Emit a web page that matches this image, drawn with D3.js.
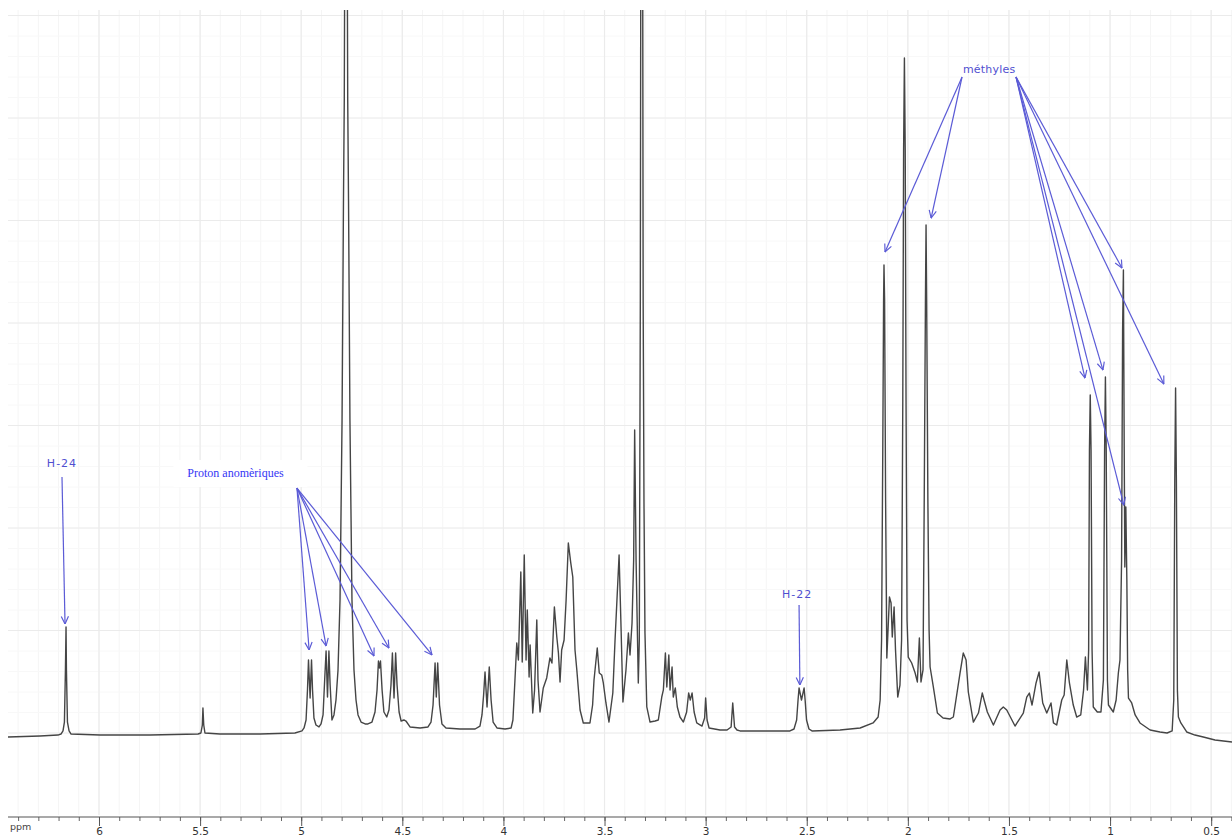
<!DOCTYPE html>
<html><head><meta charset="utf-8">
<script src="https://cdn.jsdelivr.net/npm/d3@7"></script>
<style>html,body{margin:0;padding:0;background:#fff;}svg{display:block;}</style>
</head><body>
<svg id="chart" width="1232" height="837"></svg>
<script>
// ---- data (chemical shift in ppm, relative intensity) ----
const spectrum = [
[6.450,-0.39],[6.292,-0.29],[6.203,-0.2],[6.188,-0.1],[6.178,0.2],[6.171,1.07],[6.166,6.15],[6.163,10.34],[6.161,6.15],[6.156,1.07],[6.148,0.2],[6.138,-0.1],
[5.995,-0.2],[5.748,-0.2],[5.510,-0.1],[5.496,0],[5.489,0.78],[5.486,2.44],[5.482,0.78],[5.476,0],[5.402,-0.1],[5.204,-0.1],[5.031,0],
[4.996,0.2],[4.986,0.49],[4.976,1.27],[4.969,4.2],[4.964,7.12],[4.956,3.41],[4.949,7.12],[4.944,4.2],[4.937,1.46],[4.927,0.78],[4.912,0.59],
[4.902,0.88],[4.892,1.76],[4.884,5.17],[4.877,8.0],[4.870,3.51],[4.863,8.0],[4.857,4.68],[4.848,1.27],
[4.838,1.76],[4.828,3.22],[4.818,6.15],[4.808,13.0],[4.798,30.5],[4.791,52.0],[4.787,61.8],[4.781,100],[4.776,100],[4.770,61.8],[4.766,52.0],[4.759,30.5],[4.749,13.0],[4.739,6.15],[4.729,3.22],[4.719,1.76],[4.704,1.07],[4.684,0.88],
[4.670,0.88],[4.650,1.07],[4.635,2.05],[4.625,4.2],[4.618,7.02],[4.613,6.34],[4.608,7.02],[4.600,4.2],[4.591,2.05],[4.577,1.56],
[4.566,2.24],[4.556,4.68],[4.549,7.8],[4.541,3.41],[4.533,7.8],[4.526,4.68],[4.516,2.05],[4.506,1.17],[4.492,1.27],[4.482,1.17],[4.462,0.59],[4.412,0.49],[4.373,0.59],
[4.358,1.07],[4.348,2.73],[4.338,6.83],[4.332,3.51],[4.325,6.83],[4.316,2.73],[4.304,0.88],[4.284,0.49],[4.215,0.39],[4.140,0.39],
[4.116,0.68],[4.106,1.76],[4.098,3.71],[4.091,5.95],[4.081,2.54],[4.070,6.44],[4.061,3.22],[4.051,1.07],[4.032,0.49],[3.992,0.39],[3.962,0.49],
[3.953,1.27],[3.943,5.17],[3.934,8.78],[3.926,7.12],[3.914,15.71],[3.907,6.93],[3.897,17.37],[3.888,7.12],[3.882,12.0],[3.873,5.46],[3.868,8.59],
[3.855,1.95],[3.846,4.2],[3.835,11.02],[3.829,5.17],[3.819,2.05],[3.803,4.39],[3.786,5.37],[3.770,7.32],[3.760,6.83],[3.748,12.29],[3.736,9.37],
[3.728,7.8],[3.720,4.98],[3.712,8.1],[3.700,9.07],[3.690,12.98],[3.679,18.54],[3.667,16.59],[3.657,15.22],[3.646,8.1],[3.637,6.15],[3.621,2.24],
[3.605,0.98],[3.572,0.98],[3.559,2.73],[3.552,5.17],[3.536,8.29],[3.526,5.85],[3.514,5.66],[3.506,4.88],[3.493,2.93],[3.478,1.07],
[3.459,3.9],[3.448,9.07],[3.428,17.37],[3.418,10.05],[3.409,3.02],[3.394,6.15],[3.382,9.76],[3.374,7.61],[3.364,10.73],[3.356,16.88],[3.351,29.56],[3.344,16.88],
[3.333,4.88],[3.328,9.07],[3.323,42.24],[3.319,100],[3.313,100],[3.309,42.24],[3.305,22.73],[3.300,9.76],[3.291,2.54],[3.275,1.07],[3.250,1.17],[3.234,1.27],
[3.217,3.51],[3.209,4.2],[3.199,7.8],[3.192,4.49],[3.182,7.61],[3.176,4.2],[3.166,6.44],[3.160,3.51],[3.150,4.39],[3.140,2.54],[3.127,1.56],[3.110,1.07],
[3.094,2.05],[3.084,3.9],[3.076,3.22],[3.067,3.9],[3.057,2.05],[3.044,0.98],[3.018,0.68],[3.005,1.46],[3.000,3.41],[2.993,1.27],[2.983,0.49],
[2.929,0.29],[2.894,0.29],[2.874,0.59],[2.866,2.93],[2.857,0.59],[2.845,0.29],[2.830,0.2],[2.731,0.2],[2.583,0.2],
[2.563,0.39],[2.550,1.27],[2.543,3.22],[2.538,4.39],[2.526,3.22],[2.513,4.39],[2.508,3.22],[2.501,1.27],[2.489,0.39],[2.474,0.2],
[2.335,0.29],[2.236,0.49],[2.172,0.98],[2.147,1.56],[2.137,3.22],[2.130,9.07],[2.124,27.61],[2.120,42.24],[2.118,45.66],[2.115,42.24],[2.110,22.73],
[2.104,7.32],[2.098,10.05],[2.091,13.27],[2.083,12.68],[2.077,9.37],[2.068,12.29],[2.061,8.1],[2.050,3.51],[2.039,4.68],[2.031,9.07],
[2.025,32.49],[2.021,56.88],[2.017,65.85],[2.013,56.88],[2.009,32.49],[2.004,11.02],[1.998,7.41],[1.981,6.83],[1.964,5.85],[1.953,4.98],
[1.943,9.27],[1.935,4.98],[1.925,6.15],[1.919,22.73],[1.913,42.24],[1.910,49.56],[1.907,42.24],[1.901,22.73],[1.895,10.05],[1.890,6.44],
[1.874,4.49],[1.854,1.95],[1.826,1.46],[1.791,1.37],[1.775,1.56],[1.742,5.85],[1.726,7.8],[1.712,7.12],[1.701,4.0],[1.676,1.07],
[1.651,1.95],[1.632,3.9],[1.623,3.22],[1.607,2.05],[1.577,0.78],[1.544,2.24],[1.528,2.54],[1.511,2.24],[1.470,0.68],
[1.429,1.95],[1.412,3.51],[1.399,3.9],[1.386,2.73],[1.366,4.88],[1.351,5.95],[1.333,2.93],[1.313,1.95],[1.292,2.93],[1.280,0.98],[1.264,0.78],
[1.239,3.22],[1.227,3.71],[1.214,7.12],[1.201,4.88],[1.182,2.73],[1.165,1.56],[1.145,1.76],[1.131,4.2],[1.122,7.41],[1.112,4.2],
[1.106,8.1],[1.102,27.61],[1.098,32.98],[1.094,27.61],[1.089,8.1],[1.083,2.54],[1.063,2.05],[1.045,2.05],
[1.033,5.17],[1.027,27.61],[1.023,34.73],[1.019,27.61],[1.013,5.17],[1.008,2.73],[0.984,2.05],[0.970,3.22],[0.959,5.85],[0.951,7.12],
[0.943,16.88],[0.938,39.32],[0.934,45.17],[0.930,27.61],[0.927,16.2],[0.922,22.05],[0.917,14.93],[0.913,6.15],[0.909,3.41],[0.893,2.93],
[0.876,1.76],[0.852,0.98],[0.802,0.29],[0.753,0.1],[0.718,0],[0.693,0.2],[0.685,3.22],[0.680,24.68],[0.676,33.66],[0.672,24.68],[0.667,4.2],
[0.662,1.56],[0.650,0.98],[0.621,0.1],[0.580,-0.2],[0.539,-0.39],[0.481,-0.68],[0.397,-0.88]
];

const tickValues = [6, 5.5, 5, 4.5, 4, 3.5, 3, 2.5, 2, 1.5, 1, 0.5];
const tickLabels = ["6", "5.5", "5", "4.5", "4", "3.5", "3", "2.5", "2", "1.5", "1", "0.5"];
const axisUnit = "ppm";

// annotation labels: text, ppm, intensity
const labelTexts = ["H-24", "Proton anomèriques", "H-22", "méthyles"];
const labelPpm = [6.183, 5.325, 2.548, 1.598];
const labelInt = [25.95, 24.98, 13.17, 64.4];
// arrows: [from ppm, from intensity, to ppm, to intensity]
const arrowsH24 = [[6.183, 24.98, 6.168, 10.63]];
const arrowsAnomeric = [
  [5.021, 23.9, 4.961, 8.1], [5.021, 23.9, 4.877, 8.49], [5.021, 23.9, 4.640, 7.51],
  [5.021, 23.9, 4.566, 8.29], [5.021, 23.9, 4.353, 7.61]];
const arrowsH22 = [[2.538, 12.49, 2.534, 4.68]];
const arrowsMethyl = [
  [1.732, 64.0, 2.113, 46.93], [1.732, 64.0, 1.885, 50.24],
  [1.465, 64.0, 1.124, 34.63], [1.465, 64.0, 1.035, 35.41], [1.465, 64.0, 0.941, 45.37],
  [1.465, 64.0, 0.932, 22.24], [1.465, 64.0, 0.734, 34.05]];

// ---- drawing ----
const svg = d3.select("#chart");
const pLeft = 8, pRight = 1232, pTop = 10, pBottom = 815;
const x = d3.scaleLinear().domain([6.45, 0.397]).range([pLeft, pRight]);
const y = d3.scaleLinear().domain([0, 70]).range([733, 15.5]);

const defs = svg.append("defs");
defs.append("clipPath").attr("id", "plotclip")
  .append("rect").attr("x", pLeft).attr("y", pTop).attr("width", pRight - pLeft).attr("height", pBottom - pTop);
const mk = defs.append("marker").attr("id", "arrow")
  .attr("viewBox", "0 0 10 10").attr("refX", 9.5).attr("refY", 5)
  .attr("markerWidth", 9).attr("markerHeight", 9).attr("markerUnits", "userSpaceOnUse")
  .attr("orient", "auto");
mk.append("path").attr("d", "M1,1 L9.5,5 L1,9").attr("fill", "none")
  .attr("stroke", "#5b5bd6").attr("stroke-width", 1.3);

// grid
const grid = svg.append("g");
const minorX = x.ticks(60);
grid.selectAll("line.mx").data(minorX).join("line")
  .attr("x1", d => x(d)).attr("x2", d => x(d)).attr("y1", pTop).attr("y2", pBottom)
  .attr("stroke", "#f5f5f5").attr("stroke-width", 1);
const minorY = d3.range(0, 71, 2);
grid.selectAll("line.my").data(minorY).join("line")
  .attr("x1", pLeft).attr("x2", pRight).attr("y1", d => y(d)).attr("y2", d => y(d))
  .attr("stroke", "#f8f8f8").attr("stroke-width", 1);
grid.selectAll("line.gx").data(tickValues).join("line")
  .attr("x1", d => x(d)).attr("x2", d => x(d)).attr("y1", pTop).attr("y2", pBottom)
  .attr("stroke", "#ebebeb").attr("stroke-width", 1.2);
grid.selectAll("line.gy").data(d3.range(0, 71, 10)).join("line")
  .attr("x1", pLeft).attr("x2", pRight).attr("y1", d => y(d)).attr("y2", d => y(d))
  .attr("stroke", "#ebebeb").attr("stroke-width", 1.2);

// spectrum
svg.append("path").datum(spectrum)
  .attr("clip-path", "url(#plotclip)")
  .attr("fill", "none").attr("stroke", "#454545").attr("stroke-width", 1.4)
  .attr("stroke-linejoin", "round")
  .attr("d", d3.line().x(d => x(d[0])).y(d => y(d[1])));

// axis
const axisY = 817;
const ax = svg.append("g").attr("transform", `translate(0,${axisY})`);
ax.call(d3.axisBottom(x).tickValues(minorX).tickSize(4).tickFormat(""));
ax.select(".domain").remove();
ax.selectAll("line").attr("stroke", "#666");
const ax2 = svg.append("g").attr("transform", `translate(0,${axisY})`);
ax2.call(d3.axisBottom(x).tickValues(tickValues).tickSize(9).tickPadding(2)
   .tickFormat((d, i) => tickLabels[i]));
ax2.select(".domain").remove();
ax2.selectAll("line").attr("stroke", "#555");
ax2.selectAll("text").attr("font-family", "DejaVu Sans, sans-serif").attr("font-size", 10.5).attr("fill", "#333");
svg.append("line").attr("x1", pLeft).attr("x2", pRight).attr("y1", axisY).attr("y2", axisY)
  .attr("stroke", "#555").attr("stroke-width", 1.2);
svg.append("text").attr("x", 10).attr("y", 830).text(axisUnit)
  .attr("font-family", "DejaVu Sans, sans-serif").attr("font-size", 9.5).attr("fill", "#444");

// annotations
const ann = svg.append("g");
ann.append("rect").attr("x", x(labelPpm[1]) - 62).attr("y", y(labelInt[1]) - 17)
  .attr("width", 134).attr("height", 27).attr("fill", "#fff");
const allArrows = arrowsH24.concat(arrowsAnomeric, arrowsH22, arrowsMethyl);
ann.selectAll("line.arr").data(allArrows).join("line")
  .attr("x1", d => x(d[0])).attr("y1", d => y(d[1]))
  .attr("x2", d => x(d[2])).attr("y2", d => y(d[3]))
  .attr("stroke", "#5b5bd6").attr("stroke-width", 1.2)
  .attr("marker-end", "url(#arrow)");
labelTexts.forEach((t, i) => {
  const serif = i === 1;
  ann.append("text").attr("x", x(labelPpm[i])).attr("y", y(labelInt[i]))
    .attr("text-anchor", "middle")
    .attr("font-family", serif ? "Liberation Serif, serif" : "DejaVu Sans, sans-serif")
    .attr("font-size", serif ? 12 : 11)
    .attr("letter-spacing", serif ? 0 : (i === 3 ? 0.2 : 1))
    .attr("fill", serif ? "#3535f5" : "#4f4fd0")
    .text(t);
});
</script>
</body></html>
